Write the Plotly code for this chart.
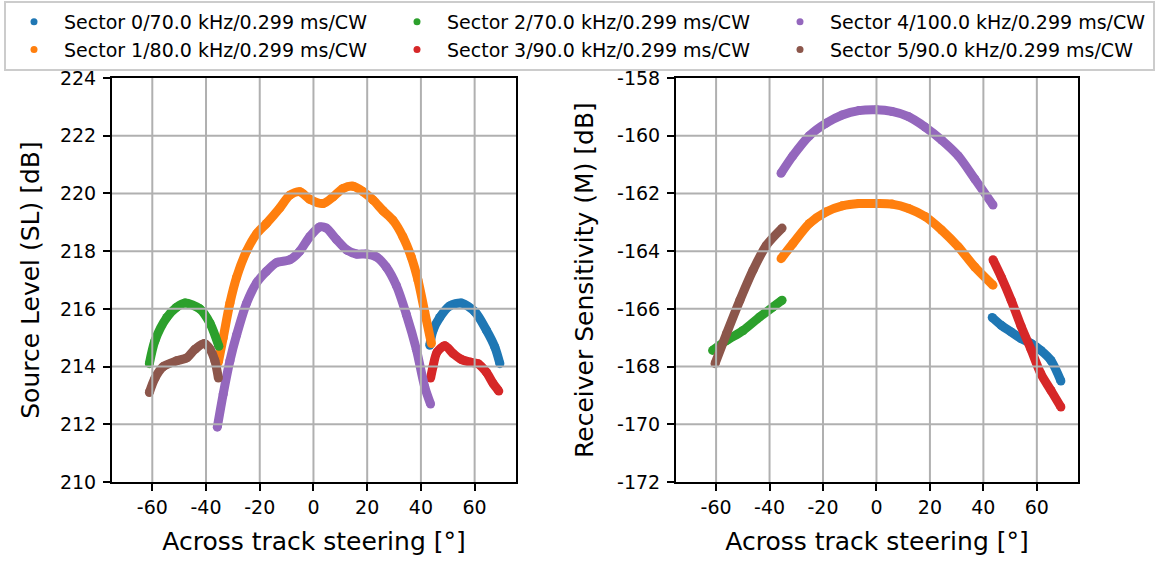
import plotly.graph_objects as go
from plotly.subplots import make_subplots

# ---------------- data ----------------
sector_names = [
    "Sector 0/70.0 kHz/0.299 ms/CW",
    "Sector 1/80.0 kHz/0.299 ms/CW",
    "Sector 2/70.0 kHz/0.299 ms/CW",
    "Sector 3/90.0 kHz/0.299 ms/CW",
    "Sector 4/100.0 kHz/0.299 ms/CW",
    "Sector 5/90.0 kHz/0.299 ms/CW",
]
sector_colors = ["#1f77b4", "#ff7f0e", "#2ca02c", "#d62728", "#9467bd", "#8c564b"]
legend_ranks = [1, 4, 2, 5, 3, 6]

# Source level (left panel)
sl_x0 = [43.3, 44.5, 47.0, 50.7, 55.1, 60.1, 64.4, 67.5, 69.4]
sl_y0 = [214.74, 215.25, 215.7, 216.1, 216.2, 215.9, 215.26, 214.68, 214.1]
sl_x1 = [-35.4, -33.6, -31.1, -28.6, -24.9, -21.2, -17.5, -12.5, -8.8, -5.1, -1.4, 3.6,
         7.3, 11.0, 14.7, 18.5, 22.2, 25.9, 29.6, 33.3, 36.4, 38.9, 41.4, 43.9]
sl_y1 = [214.15, 215.0, 216.2, 217.1, 218.0, 218.6, 218.96, 219.5, 219.94, 220.06, 219.8, 219.65,
         219.88, 220.17, 220.25, 220.06, 219.77, 219.4, 219.07, 218.5, 217.8, 217.0, 215.9, 214.8]
sl_x2 = [-61.1, -59.0, -54.6, -51.0, -47.8, -42.3, -38.5, -35.2]
sl_y2 = [214.1, 214.9, 215.7, 216.05, 216.2, 216.0, 215.5, 214.7]
sl_x3 = [43.6, 44.5, 46.0, 48.9, 52.0, 55.0, 58.5, 61.3, 64.4, 66.9, 69.0]
sl_y3 = [213.6, 214.0, 214.5, 214.72, 214.45, 214.25, 214.15, 214.1, 213.8, 213.41, 213.15]
sl_x4 = [-35.8, -33.6, -31.1, -28.6, -24.9, -21.2, -17.5, -13.8, -8.8, -5.1, -1.4, 2.4, 4.8,
         8.6, 12.3, 16.0, 19.7, 23.4, 27.1, 30.9, 34.6, 38.3, 41.4, 43.6]
sl_y4 = [211.9, 213.05, 214.2, 215.1, 216.2, 216.9, 217.3, 217.6, 217.7, 218.0, 218.5, 218.84, 218.8,
         218.4, 218.05, 217.9, 217.9, 217.8, 217.45, 216.8, 215.8, 214.6, 213.3, 212.7]
sl_x5 = [-61.1, -59.0, -55.9, -50.9, -47.2, -44.1, -40.6, -38.5, -36.7, -35.4]
sl_y5 = [213.1, 213.6, 214.0, 214.2, 214.3, 214.6, 214.8, 214.6, 214.2, 213.6]

# Receiver sensitivity (right panel)
rs_x0 = [43.3, 46.7, 50.4, 54.1, 57.8, 61.5, 65.3, 69.0]
rs_y0 = [-166.3, -166.57, -166.8, -167.03, -167.2, -167.44, -167.79, -168.5]
rs_x1 = [-35.7, -31.3, -25.1, -18.9, -12.8, -6.6, 0.0, 5.8, 12.0, 18.2, 24.4, 30.6, 36.8, 43.6]
rs_y1 = [-164.26, -163.74, -163.04, -162.64, -162.43, -162.35, -162.35, -162.37, -162.52,
         -162.8, -163.27, -163.85, -164.55, -165.18]
rs_x2 = [-61.3, -56.1, -49.9, -43.7, -38.8, -35.3]
rs_y2 = [-167.44, -167.1, -166.75, -166.28, -165.94, -165.7]
rs_x3 = [43.6, 46.7, 50.4, 54.1, 57.8, 61.5, 65.3, 69.0]
rs_y3 = [-164.3, -164.9, -165.7, -166.6, -167.4, -168.25, -168.83, -169.4]
rs_x4 = [-35.7, -31.3, -25.1, -18.9, -12.8, -6.6, 0.0, 5.8, 12.0, 18.2, 24.4, 30.6, 36.8, 43.6]
rs_y4 = [-161.3, -160.7, -160.0, -159.57, -159.28, -159.13, -159.1, -159.16, -159.34,
         -159.7, -160.15, -160.7, -161.5, -162.4]
rs_x5 = [-60.4, -56.1, -51.1, -46.2, -41.2, -35.3]
rs_y5 = [-167.9, -166.86, -165.7, -164.66, -163.8, -163.2]

x_tickvals = [-60, -40, -20, 0, 20, 40, 60]
x_ticktext = ["-60", "-40", "-20", "0", "20", "40", "60"]
sl_tickvals = [210, 212, 214, 216, 218, 220, 222, 224]
sl_ticktext = ["210", "212", "214", "216", "218", "220", "222", "224"]
rs_tickvals = [-172, -170, -168, -166, -164, -162, -160, -158]
rs_ticktext = ["-172", "-170", "-168", "-166", "-164", "-162", "-160", "-158"]

x_label = "Across track steering [°]"
sl_label = "Source Level (SL) [dB]"
rs_label = "Receiver Sensitivity (M) [dB]"

# ---------------- figure ----------------
FONT = "DejaVu Sans"
W, H = 1159, 565
mt, mb = 78, 83

fig = make_subplots(rows=1, cols=2)

sl_data = [(sl_x0, sl_y0), (sl_x1, sl_y1), (sl_x2, sl_y2), (sl_x3, sl_y3), (sl_x4, sl_y4), (sl_x5, sl_y5)]
rs_data = [(rs_x0, rs_y0), (rs_x1, rs_y1), (rs_x2, rs_y2), (rs_x3, rs_y3), (rs_x4, rs_y4), (rs_x5, rs_y5)]

for col, data in ((1, sl_data), (2, rs_data)):
    for i, (xs, ys) in enumerate(data):
        fig.add_trace(go.Scatter(
            x=xs, y=ys, mode="lines+markers",
            line=dict(color=sector_colors[i], width=9, shape="spline", smoothing=0.8),
            marker=dict(color=sector_colors[i], size=9),
            legendgroup=f"s{i}", showlegend=False, hoverinfo="skip",
        ), row=1, col=col)

# legend-only entries (dots)
for i, name in enumerate(sector_names):
    fig.add_trace(go.Scatter(
        x=[None], y=[None], mode="markers", name=name,
        marker=dict(color=sector_colors[i], size=7),
        legendgroup=f"s{i}", legendrank=legend_ranks[i], showlegend=True,
    ), row=1, col=1)

axis_common = dict(
    showline=True, linecolor="black", linewidth=2, mirror=True,
    ticks="outside", ticklen=7, tickwidth=1.5, tickcolor="black",
    showgrid=False, zeroline=False,
    tickfont=dict(family=FONT, size=19, color="black"),
)

fig.update_xaxes(range=[-75, 75.4], tickvals=x_tickvals, ticktext=x_ticktext,
                 title=dict(text=x_label, font=dict(family=FONT, size=25, color="black"), standoff=16),
                 **axis_common)
fig.update_yaxes(range=[210, 224], tickvals=sl_tickvals, ticktext=sl_ticktext,
                 ticklabelstandoff=3,
                 title=dict(text=sl_label, font=dict(family=FONT, size=25, color="black"), standoff=13),
                 row=1, col=1, **axis_common)
fig.update_yaxes(range=[-172, -158], tickvals=rs_tickvals, ticktext=rs_ticktext,
                 ticklabelstandoff=3,
                 title=dict(text=rs_label, font=dict(family=FONT, size=25, color="black"), standoff=16),
                 row=1, col=2, **axis_common)
fig.update_xaxes(domain=[112 / W, 516 / W], row=1, col=1)
fig.update_xaxes(domain=[676 / W, 1078 / W], row=1, col=2)

# gridlines drawn above the data (as in the reference)
shapes = []
for xr, yr, yt in (("x", "y", sl_tickvals), ("x2", "y2", rs_tickvals)):
    for v in x_tickvals:
        shapes.append(dict(type="line", xref=xr, yref=f"{yr} domain", x0=v, x1=v, y0=0, y1=1,
                           line=dict(color="#b0b0b0", width=2), layer="above"))
    for v in yt[1:-1]:
        shapes.append(dict(type="line", xref=f"{xr} domain", yref=yr, x0=0, x1=1, y0=v, y1=v,
                           line=dict(color="#b0b0b0", width=2), layer="above"))
fig.update_layout(shapes=shapes)

fig.update_layout(
    width=W, height=H,
    margin=dict(l=0, r=0, t=mt, b=mb, autoexpand=False),
    paper_bgcolor="white", plot_bgcolor="white",
    font=dict(family=FONT, color="black"),
    legend=dict(
        orientation="h", xref="container", yref="container",
        x=4 / W, y=1 - 1 / H, xanchor="left", yanchor="top",
        entrywidth=318, entrywidthmode="pixels", itemwidth=50,
        font=dict(family=FONT, size=19, color="black"),
        bordercolor="#cccccc", borderwidth=2, bgcolor="white",
        itemsizing="trace", tracegroupgap=0,
    ),
)

fig.write_html("out.html", config={"displayModeBar": False},
               post_script="document.body.style.margin='0';document.body.style.overflow='hidden';")
